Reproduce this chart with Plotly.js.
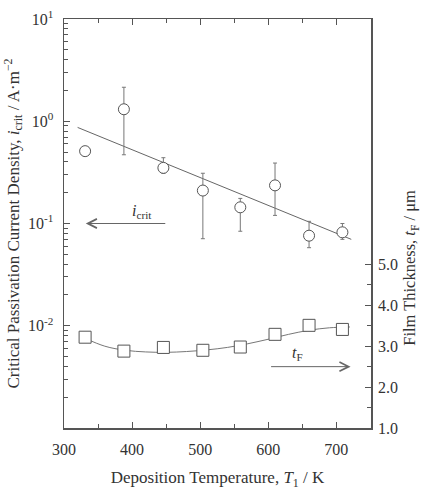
<!DOCTYPE html>
<html>
<head>
<meta charset="utf-8">
<script src="https://cdn.plot.ly/plotly-3.0.1.min.js"></script>
<style>
  html, body { margin: 0; padding: 0; background: #fff; }
  #chart { width: 432px; height: 490px; }
</style>
</head>
<body>
<div id="chart"></div>
<script>
// Critical passivation current density vs. deposition temperature
const tempCrit = [331, 388, 446, 504, 559, 610, 660, 709];
const iCrit = [0.51, 1.31, 0.35, 0.21, 0.144, 0.236, 0.076, 0.082];
// Scatter limits (NaN where no bar is drawn)
const iCritUpper = [NaN, 2.15, 0.44, 0.31, 0.176, 0.39, 0.105, 0.100];
const iCritLower = [NaN, 0.47, 0.31, 0.071, 0.084, 0.12, 0.058, 0.070];

// Log-linear fit through i_crit
const fitCritT = [320, 722];
const fitCritI = [0.87, 0.07];

// Film thickness vs. deposition temperature
const tempFilm = [331, 388, 446, 504, 559, 610, 660, 709];
const filmThick = [3.22, 2.88, 2.97, 2.90, 2.98, 3.29, 3.51, 3.41];

// Smooth trend through film thickness
const trendFilmT = [330, 360, 390, 420, 450, 480, 510, 540, 570, 600, 630, 660, 690, 720];
const trendFilm = [3.20, 3.00, 2.90, 2.86, 2.85, 2.87, 2.91, 2.97, 3.06, 3.17, 3.29, 3.39, 3.45, 3.47];

// Tick labels
const xTicks = [300, 400, 500, 600, 700];
const yTickVals = [0.01, 0.1, 1, 10];
const yTickText = ['10<sup>-2</sup>', '10<sup>-1</sup>', '10<sup>0</sup>', '10<sup>1</sup>'];
const y2TickVals = [1, 2, 3, 4, 5];
const y2TickText = ['1.0', '2.0', '3.0', '4.0', '5.0'];

const ink = '#555';
const textInk = '#333';
const serif = 'Liberation Serif';

const yMinor = [];
for (let e = -3; e < 1; e++) {
  for (let m = 2; m <= 9; m++) yMinor.push(m * Math.pow(10, e));
}

// Only points with measured scatter get error bars
const withErr = tempCrit.map((_, i) => i).filter(i => !isNaN(iCritUpper[i]));
const errT = withErr.map(i => tempCrit[i]);
const errV = withErr.map(i => iCrit[i]);
const errPlus = withErr.map(i => iCritUpper[i] - iCrit[i]);
const errMinus = withErr.map(i => iCrit[i] - iCritLower[i]);

const txt = (size) => ({ family: serif, size: size, color: textInk });

const traces = [
  {
    x: fitCritT, y: fitCritI, mode: 'lines', xaxis: 'x', yaxis: 'y',
    line: { color: '#666', width: 1 }, hoverinfo: 'skip', showlegend: false
  },
  {
    x: errT, y: errV, mode: 'markers', xaxis: 'x', yaxis: 'y',
    marker: { size: 1, opacity: 0 },
    error_y: {
      type: 'data', symmetric: false, array: errPlus, arrayminus: errMinus,
      color: '#777', thickness: 1, width: 2
    },
    hoverinfo: 'skip', showlegend: false
  },
  {
    x: tempCrit, y: iCrit, mode: 'markers', xaxis: 'x', yaxis: 'y',
    marker: { symbol: 'circle', size: 11, color: '#fff', line: { width: 1, color: ink } },
    showlegend: false
  },
  {
    x: trendFilmT, y: trendFilm, mode: 'lines', xaxis: 'x', yaxis: 'y2',
    line: { color: '#777', width: 1, shape: 'spline' }, hoverinfo: 'skip', showlegend: false
  },
  {
    x: tempFilm, y: filmThick, mode: 'markers', xaxis: 'x', yaxis: 'y2',
    marker: { symbol: 'square', size: 12, color: '#fff', line: { width: 1, color: ink } },
    showlegend: false
  }
];

const layout = {
  width: 432, height: 490,
  margin: { l: 64, r: 61, t: 19, b: 62, autoexpand: false },
  paper_bgcolor: '#fff', plot_bgcolor: '#fff',
  font: txt(16),
  showlegend: false,
  xaxis: {
    range: [300, 751], tickvals: xTicks, ticks: 'inside', ticklen: 6,
    tickcolor: ink, tickwidth: 1, showline: true, linecolor: ink, linewidth: 1.5,
    mirror: 'ticks', showgrid: false, zeroline: false, automargin: false,
    ticklabelstandoff: 6,
    minor: { tickvals: [350, 450, 550, 650, 750], ticks: 'inside', ticklen: 4, tickcolor: ink },
    tickfont: txt(16),
    title: {
      text: 'Deposition Temperature, <i>T</i><sub>1</sub> / K',
      font: txt(17), standoff: 15
    }
  },
  yaxis: {
    type: 'log', range: [-3, 1], tickvals: yTickVals, ticktext: yTickText,
    ticks: 'inside', ticklen: 6, tickcolor: ink, showline: true, linecolor: ink,
    linewidth: 1.5, mirror: true, showgrid: false, zeroline: false, automargin: false,
    ticklabelstandoff: 6,
    minor: { tickvals: yMinor, ticks: 'inside', ticklen: 4, tickcolor: ink },
    tickfont: txt(16),
    title: {
      text: 'Critical Passivation Current Density, <i>i</i><sub>crit</sub> / A·m<sup>−2</sup>',
      font: txt(17), standoff: 4
    }
  },
  yaxis2: {
    overlaying: 'y', side: 'right', range: [1, 11], automargin: false,
    tickvals: y2TickVals, ticktext: y2TickText, ticks: 'inside', ticklen: 6,
    tickcolor: ink, showline: false, showgrid: false, zeroline: false,
    ticklabelstandoff: 6,
    minor: { tickvals: [1.5, 2.5, 3.5, 4.5], ticks: 'inside', ticklen: 4, tickcolor: ink },
    tickfont: txt(16)
  },
  annotations: [
    {
      xref: 'paper', yref: 'paper', x: 1.166, y: 0.196, textangle: -90,
      text: 'Film Thickness, <i>t</i><sub>F</sub> / μm', showarrow: false,
      font: txt(16.5)
    },
    {
      xref: 'x', yref: 'y2', x: 332, y: 6.0, text: '', showarrow: true,
      ax: 81, ay: 0, arrowhead: 5, arrowsize: 1.8, arrowwidth: 1, arrowcolor: '#666'
    },
    {
      xref: 'x', yref: 'y2', x: 415, y: 6.3, showarrow: false,
      text: '<i>i</i><sub>crit</sub>', font: txt(16)
    },
    {
      xref: 'x', yref: 'y2', x: 721, y: 2.5, text: '', showarrow: true,
      ax: -81, ay: 0, arrowhead: 5, arrowsize: 1.8, arrowwidth: 1, arrowcolor: '#666'
    },
    {
      xref: 'x', yref: 'y2', x: 643, y: 2.82, showarrow: false,
      text: '<i>t</i><sub>F</sub>', font: txt(16)
    }
  ]
};

Plotly.newPlot('chart', traces, layout, { displayModeBar: false, staticPlot: true });
</script>
</body>
</html>
